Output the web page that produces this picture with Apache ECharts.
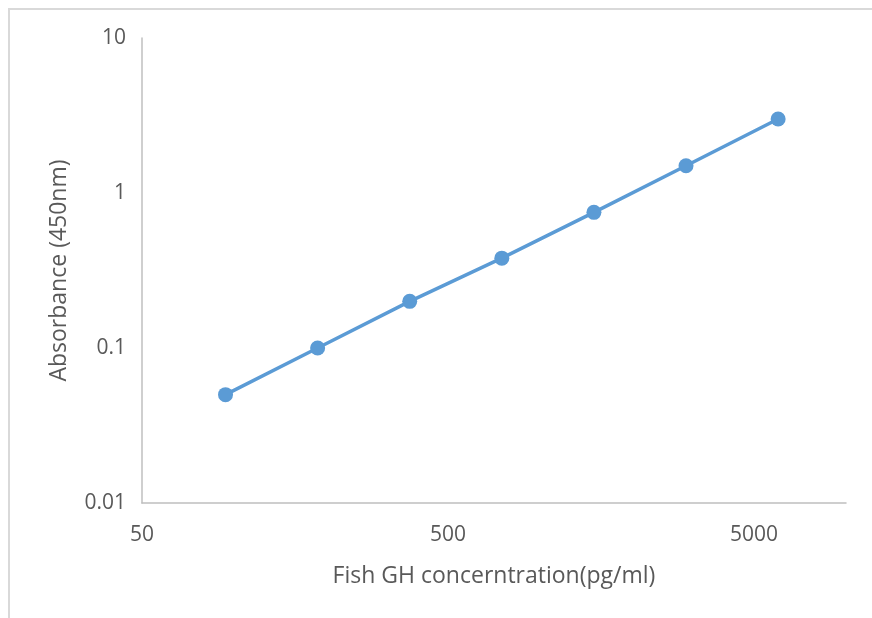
<!DOCTYPE html>
<html>
<head>
<meta charset="utf-8">
<script src="https://cdn.jsdelivr.net/npm/echarts@6/dist/echarts.min.js"></script>
<style>html,body{margin:0;padding:0;background:#fff}#c{width:872px;height:618px}</style>
</head>
<body>
<div id="c"></div>
<script>
const concentration = [93.75, 187.5, 375, 750, 1500, 3000, 6000];
const absorbance = [0.05, 0.1, 0.2, 0.38, 0.75, 1.5, 3.0];
const xTickValues = [50, 500, 5000];
const yTickValues = [0.01, 0.1, 1, 10];

const chart = echarts.init(document.getElementById('c'), null, {renderer: 'canvas'});
const fmt = v => String(+Number(v).toPrecision(3));
const font = "'Open Sans', 'Liberation Sans', sans-serif";
chart.setOption({
  animation: false,
  backgroundColor: '#fff',
  graphic: [{
    type: 'rect', left: 6.5, top: 6.5,
    shape: {width: 900, height: 700},
    style: {fill: 'none', stroke: '#d9d9d9', lineWidth: 2},
    silent: true
  }],
  grid: {left: 142, top: 38, right: 26, bottom: 115, containLabel: false},
  xAxis: {
    type: 'log', logBase: 10, min: 50, max: 10000,
    name: 'Fish GH concerntration(pg/ml)', nameLocation: 'middle', nameGap: 62,
    nameTextStyle: {color: '#595959', fontSize: 23, fontFamily: font},
    axisLine: {show: true, lineStyle: {color: '#bfbfbf', width: 1.5}},
    axisTick: {show: false},
    splitLine: {show: false},
    axisLabel: {
      color: '#595959', fontSize: 21, fontFamily: font, margin: 22,
      customValues: xTickValues,
      formatter: v => fmt(v)
    }
  },
  yAxis: {
    type: 'log', logBase: 10, min: 0.01, max: 10, interval: 1,
    name: 'Absorbance (450nm)', nameLocation: 'middle', nameGap: 71,
    nameTextStyle: {color: '#595959', fontSize: 23, fontFamily: font},
    axisLine: {show: true, lineStyle: {color: '#bfbfbf', width: 1.5}},
    axisTick: {show: false},
    splitLine: {show: false},
    axisLabel: {
      color: '#595959', fontSize: 21, fontFamily: font, margin: 16,
      customValues: yTickValues,
      formatter: v => fmt(v)
    }
  },
  series: [{
    type: 'line',
    data: concentration.map((x, i) => [x, absorbance[i]]),
    symbol: 'circle', symbolSize: 15,
    lineStyle: {color: '#5b9bd5', width: 3.5},
    itemStyle: {color: '#5b9bd5'}
  }]
});
</script>
</body>
</html>
